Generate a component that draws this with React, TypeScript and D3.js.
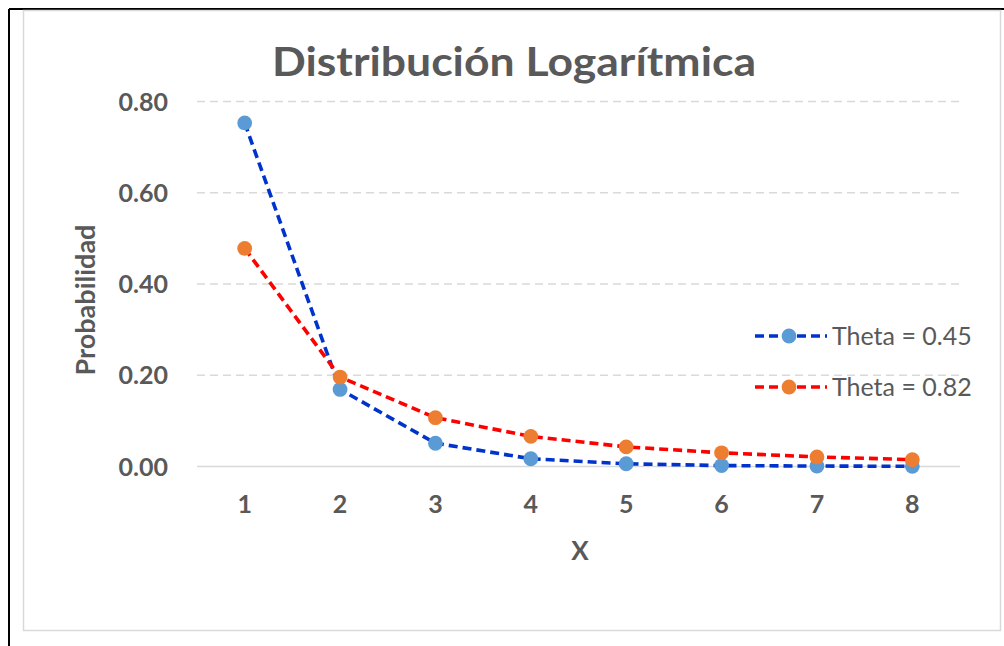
import React from 'react';
import * as d3 from 'd3';

// values
const categories = ['1', '2', '3', '4', '5', '6', '7', '8'];
const theta045 = [0.753, 0.169, 0.051, 0.017, 0.006, 0.002, 0.001, 0.0004];
const theta082 = [0.478, 0.196, 0.107, 0.066, 0.043, 0.030, 0.021, 0.015];
const yTicks = [0, 0.2, 0.4, 0.6, 0.8];

const series = [
  { name: 'Theta = 0.45', values: theta045, line: '#0033CC', marker: '#5B9BD5' },
  { name: 'Theta = 0.82', values: theta082, line: '#FF0000', marker: '#ED7D31' },
];

const width = 1004;
const height = 646;
const plot = { left: 197, right: 960, top: 101.5, bottom: 466.5 };
const textColor = '#595959';
const font = 'Lato, "Open Sans", sans-serif';

const App = () => {
  const x = d3.scaleBand().domain(categories).range([plot.left, plot.right]);
  const y = d3.scaleLinear().domain([0, 0.8]).range([plot.bottom, plot.top]);

  const line = d3.line<number>()
    .x((_, i) => x(categories[i])! + x.bandwidth() / 2)
    .y(d => y(d));

  return (
    <svg width={width} height={height} style={{ position: 'absolute', left: 0, top: 0, background: '#fff' }}>
      {/* outer frame */}
      <line x1={9} y1={9} x2={width} y2={9} stroke="#000" strokeWidth={2} />
      <line x1={9} y1={9} x2={9} y2={height} stroke="#000" strokeWidth={2} />
      <rect x={23.5} y={10.5} width={977} height={620} fill="#fff" stroke="#d9d9d9" strokeWidth={1.5} />

      <text x={514} y={76} textAnchor="middle" fontFamily={font} fontWeight="bold" fontSize={40}
        fill={textColor} textLength={484} lengthAdjust="spacingAndGlyphs">
        Distribución Logarítmica
      </text>

      {/* grid */}
      {yTicks.map(t => (
        <g key={t}>
          <line x1={plot.left} x2={plot.right} y1={y(t)} y2={y(t)} stroke="#d9d9d9"
            strokeWidth={1.3} strokeDasharray={t === 0 ? undefined : '8 5'} />
          <text x={168} y={y(t) + 9} textAnchor="end" fontFamily={font} fontWeight="bold"
            fontSize={25} fill={textColor}>
            {t.toFixed(2)}
          </text>
        </g>
      ))}

      {categories.map(c => (
        <text key={c} x={x(c)! + x.bandwidth() / 2} y={513} textAnchor="middle" fontFamily={font}
          fontWeight="bold" fontSize={25} fill={textColor}>
          {c}
        </text>
      ))}

      <text x={580} y={560} textAnchor="middle" fontFamily={font} fontWeight="bold" fontSize={26} fill={textColor}>
        X
      </text>
      <text transform="translate(95,300) rotate(-90)" textAnchor="middle" fontFamily={font}
        fontWeight="bold" fontSize={27} fill={textColor}>
        Probabilidad
      </text>

      {series.map(s => (
        <g key={s.name}>
          <path d={line(s.values)!} fill="none" stroke={s.line} strokeWidth={3.6} strokeDasharray="9 5" />
          {s.values.map((v, i) => (
            <circle key={i} cx={x(categories[i])! + x.bandwidth() / 2} cy={y(v)} r={7.4} fill={s.marker} />
          ))}
        </g>
      ))}

      {/* legend */}
      {series.map((s, i) => {
        const ly = 336 + i * 51;
        return (
          <g key={s.name}>
            <line x1={755} x2={827} y1={ly} y2={ly} stroke={s.line} strokeWidth={3.6} strokeDasharray="9 5" />
            <circle cx={789} cy={ly} r={7.4} fill={s.marker} />
            <text x={832} y={ly + 9} fontFamily={font} fontSize={25} fill={textColor}>
              {s.name}
            </text>
          </g>
        );
      })}
    </svg>
  );
};

export default App;
